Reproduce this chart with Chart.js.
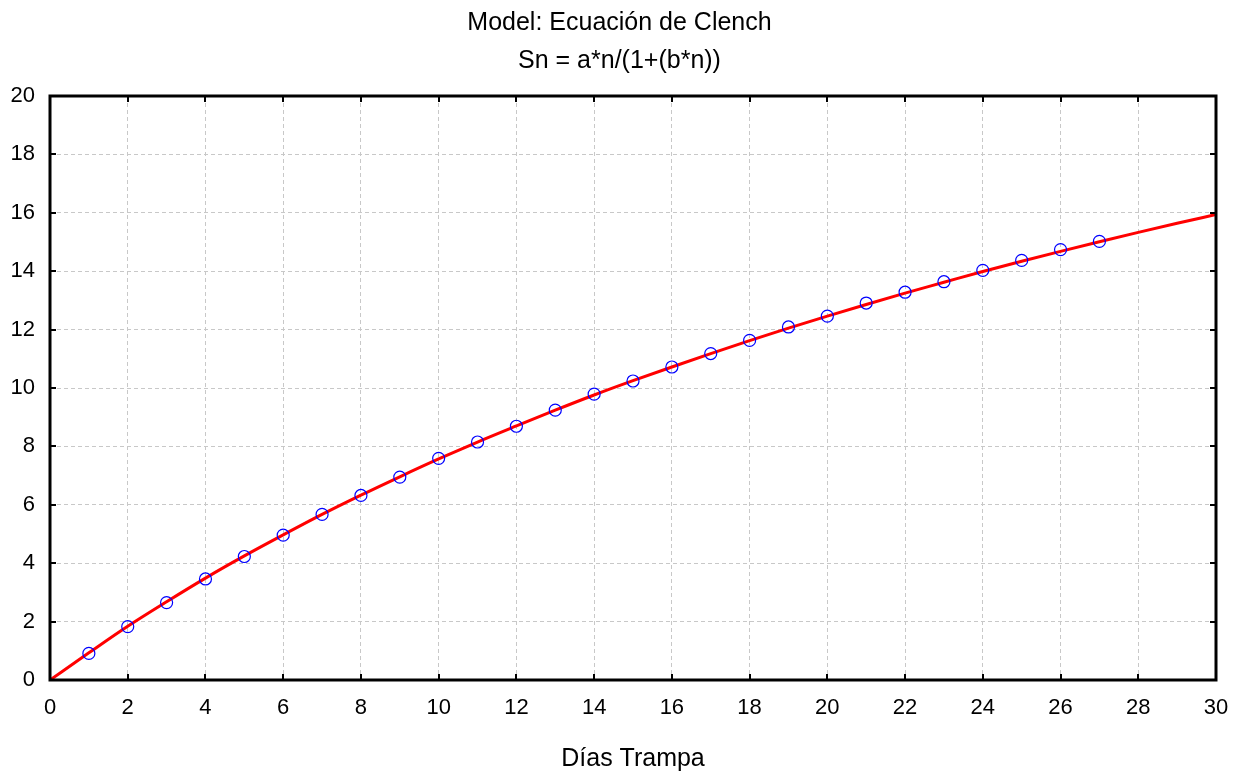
<!DOCTYPE html>
<html>
<head>
<meta charset="utf-8">
<script src="https://cdn.jsdelivr.net/npm/chart.js@4"></script>
<style>
  html, body { margin: 0; padding: 0; background: #fff; }
  canvas { display: block; }
</style>
</head>
<body>
<canvas id="chart" width="1239" height="773"></canvas>
<script>
// titles
const titleLines = ['Model: Ecuación de Clench', 'Sn = a*n/(1+(b*n))'];
const xTitle = 'Días Trampa';

// observed points (trap days vs species)
const days = [1, 2, 3, 4, 5, 6, 7, 8, 9, 10, 11, 12, 13, 14, 15, 16, 17, 18, 19, 20, 21, 22, 23, 24, 25, 26, 27];
const observed = [0.91, 1.83, 2.65, 3.46, 4.23, 4.96, 5.67, 6.32, 6.95, 7.59, 8.15, 8.69, 9.24, 9.79, 10.24,
  10.72, 11.18, 11.63, 12.09, 12.46, 12.91, 13.28, 13.64, 14.03, 14.37, 14.74, 15.02];

// fitted curve
const curveN = [0, 1, 2, 3, 4, 5, 6, 7, 8, 9, 10, 11, 12, 13, 14, 15, 16, 17, 18, 19, 20, 21, 22, 23, 24, 25, 26, 27, 28, 29, 30];
const curveS = [0, 0.93, 1.84, 2.68, 3.49, 4.25, 4.97, 5.67, 6.33, 6.96, 7.57, 8.15, 8.7, 9.24, 9.76, 10.25,
  10.72, 11.18, 11.62, 12.05, 12.46, 12.86, 13.25, 13.62, 13.99, 14.34, 14.68, 15.01, 15.33, 15.64, 15.94];

// axis ticks
const xTicks = [0, 2, 4, 6, 8, 10, 12, 14, 16, 18, 20, 22, 24, 26, 28, 30];
const yTicks = [0, 2, 4, 6, 8, 10, 12, 14, 16, 18, 20];

const FONT = '"Liberation Sans", Arial, sans-serif';

// frame, inward ticks and title text
const framePlugin = {
  id: 'frame',
  afterDatasetsDraw(chart) {
    const { ctx, chartArea: a, scales } = chart;
    ctx.save();
    ctx.strokeStyle = '#000';
    ctx.lineWidth = 2;
    xTicks.forEach(v => {
      const px = Math.round(scales.x.getPixelForValue(v));
      ctx.beginPath();
      ctx.moveTo(px, a.bottom); ctx.lineTo(px, a.bottom - 6);
      ctx.moveTo(px, a.top); ctx.lineTo(px, a.top + 6);
      ctx.stroke();
    });
    yTicks.forEach(v => {
      const py = Math.round(scales.y.getPixelForValue(v));
      ctx.beginPath();
      ctx.moveTo(a.left, py); ctx.lineTo(a.left + 6, py);
      ctx.moveTo(a.right, py); ctx.lineTo(a.right - 6, py);
      ctx.stroke();
    });
    ctx.lineWidth = 3;
    ctx.strokeRect(a.left, a.top, a.right - a.left, a.bottom - a.top);

    ctx.fillStyle = '#000';
    ctx.font = '25px ' + FONT;
    ctx.textAlign = 'center';
    ctx.textBaseline = 'alphabetic';
    ctx.fillText(titleLines[0], chart.width / 2, 30);
    ctx.fillText(titleLines[1], chart.width / 2, 68);
    ctx.fillText(xTitle, (a.left + a.right) / 2, 766);
    ctx.restore();
  }
};

new Chart(document.getElementById('chart'), {
  type: 'scatter',
  data: {
    datasets: [
      {
        label: 'fit',
        data: curveN.map((n, i) => ({ x: n, y: curveS[i] })),
        showLine: true,
        borderColor: '#ff0000',
        borderWidth: 3,
        pointRadius: 0,
        cubicInterpolationMode: 'monotone',
        order: 2
      },
      {
        label: 'observed',
        data: days.map((d, i) => ({ x: d, y: observed[i] })),
        showLine: false,
        pointStyle: 'circle',
        pointRadius: 6,
        borderColor: '#0000ff',
        backgroundColor: 'rgba(0,0,0,0)',
        borderWidth: 1.2,
        order: 1
      }
    ]
  },
  options: {
    responsive: false,
    animation: false,
    events: [],
    layout: { padding: { top: 96, right: 23, bottom: 0, left: 0 } },
    plugins: {
      legend: { display: false },
      title: { display: false },
      tooltip: { enabled: false }
    },
    scales: {
      x: {
        type: 'linear',
        min: 0,
        max: 30,
        afterFit: s => { s.height = 93; s.paddingLeft = 0; s.paddingRight = 0; },
        afterBuildTicks: s => { s.ticks = xTicks.map(v => ({ value: v })); },
        ticks: { color: '#000', font: { family: FONT, size: 22 }, padding: 15, maxRotation: 0 },
        grid: { color: '#c8c8c8', lineWidth: 1, drawTicks: false },
        border: { display: false, dash: [4, 3] }
      },
      y: {
        type: 'linear',
        min: 0,
        max: 20,
        afterFit: s => { s.width = 50; s.paddingTop = 0; s.paddingBottom = 0; },
        afterBuildTicks: s => { s.ticks = yTicks.map(v => ({ value: v })); },
        ticks: { color: '#000', font: { family: FONT, size: 22 }, padding: 15 },
        grid: { color: '#c8c8c8', lineWidth: 1, drawTicks: false },
        border: { display: false, dash: [4, 3] }
      }
    }
  },
  plugins: [framePlugin]
});
</script>
</body>
</html>
